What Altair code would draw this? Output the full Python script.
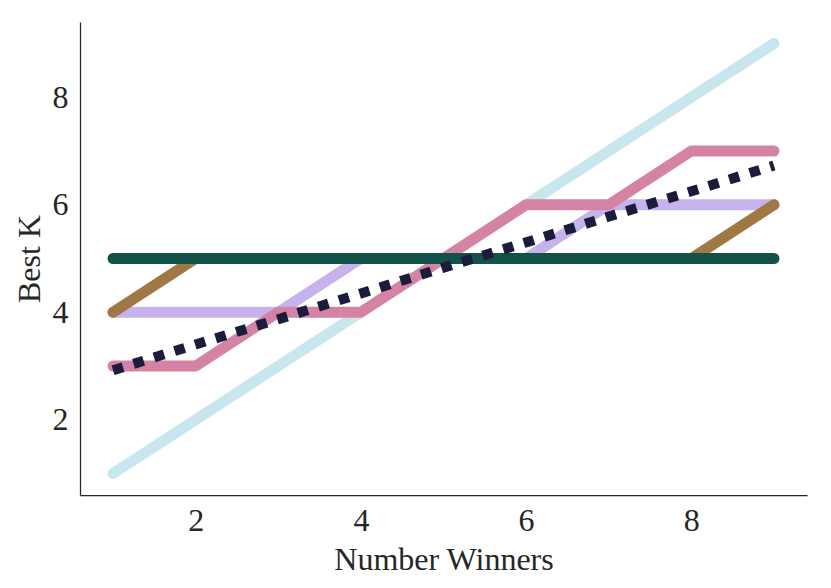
import altair as alt
import pandas as pd

x_vals = [1, 2, 3, 4, 5, 6, 7, 8, 9]
light_blue = [1, 2, 3, 4, 5, 6, 7, 8, 9]
lavender = [4, 4, 4, 5, 5, 5, 6, 6, 6]
pink = [3, 3, 4, 4, 5, 6, 6, 7, 7]
brown = [4, 5, 5, 5, 5, 5, 5, 5, 6]
green = [5, 5, 5, 5, 5, 5, 5, 5, 5]
dotted = [2.92, 3.40, 3.87, 4.35, 4.83, 5.30, 5.78, 6.25, 6.73]

series = [
    ("light_blue", light_blue, "#c8e6ee"),
    ("lavender", lavender, "#c7b3ec"),
    ("pink", pink, "#d483a5"),
    ("brown", brown, "#a07845"),
    ("green", green, "#145149"),
]

FONT = "Liberation Serif"
TXT = "#262626"

xscale = alt.Scale(domain=[0.6, 9.4], nice=False, zero=False)
yscale = alt.Scale(domain=[0.6, 9.4], nice=False, zero=False)

xaxis = alt.Axis(title="Number Winners", values=[2, 4, 6, 8], grid=False, ticks=False,
                 labelFont=FONT, labelFontSize=32, labelColor=TXT, labelPadding=10,
                 titleFont=FONT, titleFontSize=32, titleColor=TXT, titleFontWeight="normal",
                 titlePadding=8, domainColor=TXT, domainWidth=1.25)
yaxis = alt.Axis(title="Best K", values=[2, 4, 6, 8], grid=False, ticks=False,
                 labelFont=FONT, labelFontSize=32, labelColor=TXT, labelPadding=12,
                 titleFont=FONT, titleFontSize=32, titleColor=TXT, titleFontWeight="normal",
                 titlePadding=6, domainColor=TXT, domainWidth=1.25)

def enc():
    return dict(
        x=alt.X("x:Q", scale=xscale, axis=xaxis),
        y=alt.Y("y:Q", scale=yscale, axis=yaxis),
    )

layers = []
for name, vals, col in series:
    df = pd.DataFrame({"x": x_vals, "y": vals})
    layers.append(
        alt.Chart(df).mark_line(color=col, strokeWidth=11, strokeCap="round", strokeJoin="round").encode(**enc())
    )

dfd = pd.DataFrame({"x": x_vals, "y": dotted})
layers.append(
    alt.Chart(dfd).mark_line(color="#1b1b3c", strokeWidth=10, strokeDash=[10.5, 11], strokeCap="butt").encode(**enc())
)

chart = alt.layer(*layers).properties(
    width=727, height=473,
    background="white",
    autosize=alt.AutoSizeParams(type="none"),
    padding={"left": 72, "top": 14, "right": 16, "bottom": 85},
).configure_view(stroke=None)

chart.save("out.html", embed_options={"renderer": "svg", "actions": False})
